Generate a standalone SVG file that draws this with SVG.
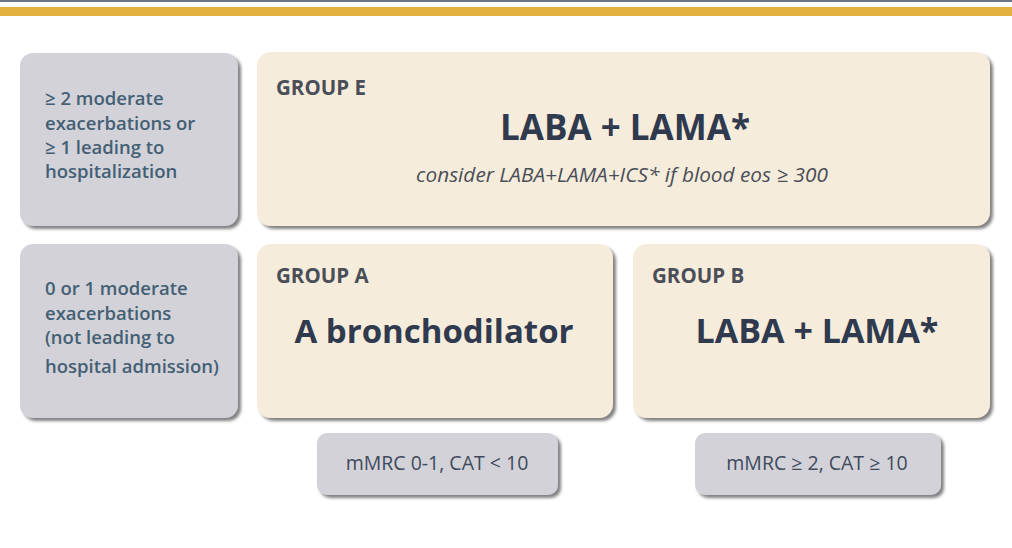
<svg xmlns="http://www.w3.org/2000/svg" width="1012" height="548" viewBox="0 0 1012 548">
<style>
.gray{fill:#d3d2d9}
.cream{fill:#f6ecdb}
text{font-family:"Open Sans","Liberation Sans",sans-serif}
.side{font-size:18.5px;font-weight:600;fill:#436074}
.grp{font-size:20.5px;font-weight:bold;fill:#4a4e58}
.big{font-size:35px;font-weight:bold;fill:#2f3a4f;text-anchor:middle}
.ital{font-size:20.8px;font-style:italic;fill:#4a4e58;text-anchor:middle}
.crit{font-size:19.5px;fill:#3f4a5c;text-anchor:middle}
</style>
<defs>
<filter id="sh" x="-10%" y="-10%" width="125%" height="130%">
<feDropShadow dx="3" dy="3" stdDeviation="1.8" flood-color="#5a5a5a" flood-opacity="0.75"/>
</filter>
</defs>
<rect width="1012" height="548" fill="#ffffff"/>
<rect x="0" y="0" width="1012" height="2" fill="#6b7486"/>
<rect x="0" y="7" width="1012" height="9" fill="#e3b042"/>
<g id="row1-label">
<rect class="gray" x="20" y="53" width="218" height="173" rx="13" filter="url(#sh)"/>
<text class="side" x="45" y="105">≥ 2 moderate</text>
<text class="side" x="45" y="130">exacerbations or</text>
<text class="side" x="45" y="154">≥ 1 leading to</text>
<text class="side" x="45" y="178">hospitalization</text>
</g>
<g id="groupE">
<rect class="cream" x="257" y="52" width="733" height="174" rx="14" filter="url(#sh)"/>
<text class="grp" x="276" y="95">GROUP E</text>
<text class="big" x="625" y="140">LABA + LAMA*</text>
<text class="ital" x="622" y="182">consider LABA+LAMA+ICS* if blood eos ≥ 300</text>
</g>
<g id="row2-label">
<rect class="gray" x="20" y="244" width="218" height="174" rx="13" filter="url(#sh)"/>
<text class="side" x="45" y="295">0 or 1 moderate</text>
<text class="side" x="45" y="320">exacerbations</text>
<text class="side" x="45" y="344">(not leading to</text>
<text class="side" x="45" y="373">hospital admission)</text>
</g>
<g id="groupA">
<rect class="cream" x="257" y="244" width="356" height="174" rx="14" filter="url(#sh)"/>
<text class="grp" x="276" y="283">GROUP A</text>
<text class="big" x="434" y="343" style="font-size:33px">A bronchodilator</text>
</g>
<g id="groupB">
<rect class="cream" x="633" y="244" width="357" height="174" rx="14" filter="url(#sh)"/>
<text class="grp" x="652" y="283">GROUP B</text>
<text class="big" x="817" y="343" style="font-size:34px">LABA + LAMA*</text>
</g>
<g id="critA">
<rect class="gray" x="317" y="433" width="241" height="62" rx="10" filter="url(#sh)"/>
<text class="crit" x="437" y="470">mMRC 0-1, CAT &lt; 10</text>
</g>
<g id="critB">
<rect class="gray" x="695" y="433" width="246" height="62" rx="10" filter="url(#sh)"/>
<text class="crit" x="817" y="470">mMRC ≥ 2, CAT ≥ 10</text>
</g>
<g id="connectors"/>
</svg>
